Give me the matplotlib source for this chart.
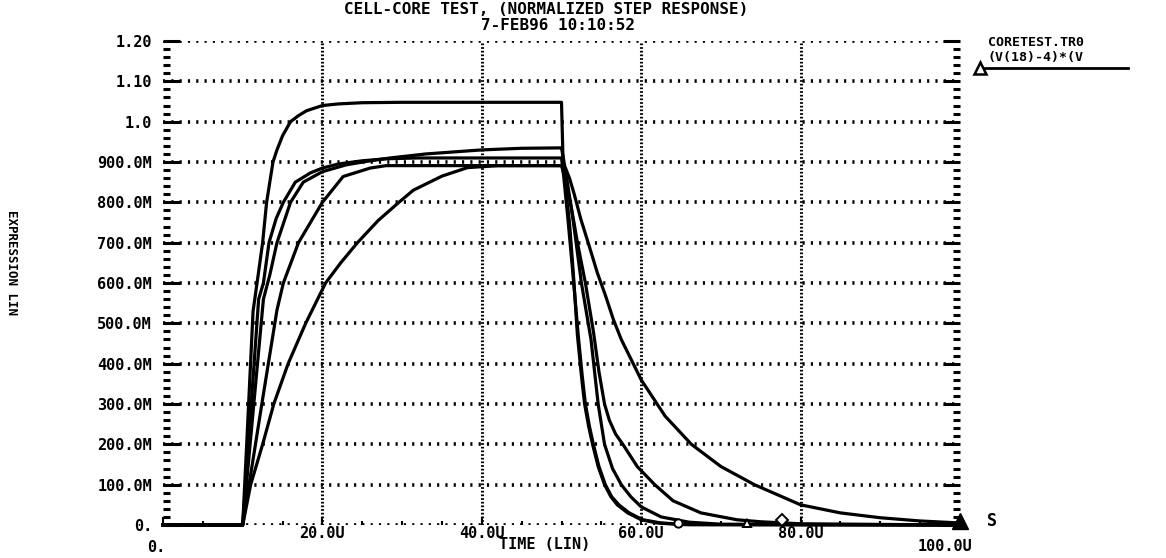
import matplotlib
matplotlib.use("Agg")
import matplotlib.pyplot as plt
from matplotlib import transforms
from matplotlib.lines import Line2D
from matplotlib.ticker import MultipleLocator

# time in microseconds, values normalized
a_t = [0, 10, 10.5, 11.3, 11.8, 12.5, 13.0, 13.8, 14.3, 15.0, 16.0, 17.0, 18.0, 20.0, 22.0, 25.0, 30.0, 50.0,
       50.2, 50.6, 51.0, 51.5, 52.0, 52.5, 52.9, 53.4, 53.9, 54.6, 55.4, 56.2, 57.0, 58.3, 60.0, 62.0, 65.0, 100.0]
a_v = [0, 0, 0.2, 0.53, 0.6, 0.7, 0.8, 0.9, 0.93, 0.965, 1.0, 1.015, 1.027, 1.04, 1.044, 1.047, 1.048, 1.048,
       0.9, 0.82, 0.75, 0.62, 0.47, 0.37, 0.30, 0.245, 0.2, 0.145, 0.1, 0.07, 0.05, 0.03, 0.013, 0.005, 0.001, 0]

b_t = [0, 10, 12.0, 12.6, 13.3, 14.2, 15.1, 16.6, 18.5, 20, 22, 25, 28, 32, 50,
       50.3, 50.8, 51.4, 52.1, 52.6, 53.0, 53.5, 54.0, 54.7, 55.5, 56.3, 57.2, 58.5, 60.2, 62.5, 66, 100]
b_v = [0, 0, 0.56, 0.6, 0.7, 0.76, 0.8, 0.85, 0.873, 0.885, 0.895, 0.903, 0.908, 0.91, 0.91,
       0.86, 0.76, 0.63, 0.47, 0.37, 0.30, 0.245, 0.2, 0.145, 0.1, 0.07, 0.05, 0.03, 0.013, 0.005, 0.001, 0]

c_t = [0, 10, 12.6, 13.4, 14.3, 16.0, 17.6, 20, 23, 26, 28.5, 33, 40, 45, 50,
       50.5, 51.5, 52.5, 53.7, 54.6, 55.4, 56.4, 57.5, 58.7, 60, 62.5, 66, 70, 100]
c_v = [0, 0, 0.56, 0.62, 0.7, 0.8, 0.85, 0.876, 0.893, 0.903, 0.91, 0.92, 0.93, 0.934, 0.935,
       0.88, 0.75, 0.6, 0.46, 0.3, 0.2, 0.14, 0.1, 0.07, 0.045, 0.02, 0.007, 0.002, 0]

d_t = [0, 10, 12.4, 14.3, 15.1, 17, 20, 22.6, 26, 28, 50,
       50.6, 51.3, 52, 53, 54, 54.7, 55.4, 56.0, 56.8, 57.7, 59.5, 61.7, 64, 67.5, 72, 75, 80, 100]
d_v = [0, 0, 0.3, 0.533, 0.6, 0.7, 0.8, 0.864, 0.885, 0.891, 0.891,
       0.85, 0.78, 0.7, 0.6, 0.48, 0.38, 0.3, 0.26, 0.225, 0.2, 0.145, 0.1, 0.06, 0.03, 0.013, 0.008, 0.003, 0]

e_t = [0, 10, 11, 12.5, 13.9, 15.7, 17.9, 20.4, 22.3, 24.4, 27, 29.6, 31.4, 35, 38.2, 42, 50,
       50.5, 51, 51.6, 52.4, 53.5, 54.5, 55.5, 56.5, 57.5, 60, 63, 66.3, 70, 74.2, 80, 85, 90, 95, 100]
e_v = [0, 0, 0.1, 0.2, 0.3, 0.4, 0.5, 0.6, 0.65, 0.7, 0.755, 0.8, 0.83, 0.865, 0.886, 0.891, 0.891,
       0.885, 0.86, 0.82, 0.76, 0.69, 0.625, 0.57, 0.51, 0.46, 0.36, 0.27, 0.2, 0.145, 0.1, 0.05, 0.03, 0.018, 0.01, 0.005]

curves = [(a_t, a_v), (b_t, b_v), (c_t, c_v), (d_t, d_v), (e_t, e_v)]

# trace symbols drawn by Probe near the baseline
marker_t = [64.6, 73.3, 77.7]
marker_v = [0.004, 0.004, 0.012]
marker_sym = ["o", "^", "D"]

y_tick_vals = [0, 0.1, 0.2, 0.3, 0.4, 0.5, 0.6, 0.7, 0.8, 0.9, 1.0, 1.1, 1.2]
y_tick_labels = ["0.", "100.0M", "200.0M", "300.0M", "400.0M", "500.0M", "600.0M",
                 "700.0M", "800.0M", "900.0M", "1.0", "1.10", "1.20"]
x_tick_vals = [0, 20, 40, 60, 80, 100]
x_tick_labels = ["0.", "20.0U", "40.0U", "60.0U", "80.0U", "100.0U"]

mono = dict(family="DejaVu Sans Mono", weight="bold")
W, H = 1166, 558

fig = plt.figure(figsize=(W / 100, H / 100), dpi=100)
ax = fig.add_axes([163 / W, 33 / H, (960 - 163) / W, (525 - 41) / H])

for t, v in curves:
    ax.plot(t, v, color="black", lw=2.3, solid_joinstyle="round", clip_on=False, zorder=3)

for mt, mv, ms in zip(marker_t, marker_v, marker_sym):
    ax.plot(mt, mv, marker=ms, ms=6, mfc="white", mec="black", mew=1.4, clip_on=False, zorder=4)
ax.plot(100, 0.01, marker="^", ms=11, color="black", clip_on=False, zorder=4)

ax.set_xlim(0, 100)
ax.set_ylim(0, 1.2)
for s in ax.spines.values():
    s.set_visible(False)

# dotted grid
for yv in y_tick_vals:
    ax.axhline(yv, color="black", lw=2.6, linestyle=(0, (0.6, 1.7)), zorder=1)
for xv in x_tick_vals[1:-1]:
    ax.axvline(xv, color="black", lw=2.2, linestyle=(0, (0.55, 0.65)), zorder=1)

ax.set_yticks(y_tick_vals)
ax.set_yticklabels(y_tick_labels, fontsize=11, **mono)
ax.yaxis.set_minor_locator(MultipleLocator(0.02))
ax.tick_params(axis="y", which="both", direction="in", left=True, right=True, width=2.2, pad=8, color="black")
ax.tick_params(axis="y", which="major", length=12)
ax.tick_params(axis="y", which="minor", length=5)

ax.set_xticks(x_tick_vals)
ax.xaxis.set_minor_locator(MultipleLocator(5))
ax.tick_params(axis="x", which="both", direction="in", bottom=True, top=False, labelbottom=False, width=1.5)
ax.tick_params(axis="x", which="major", length=6)
ax.tick_params(axis="x", which="minor", length=3)

trans = transforms.blended_transform_factory(ax.transData, ax.transAxes)
for xv, lab in zip(x_tick_vals[1:-1], x_tick_labels[1:-1]):
    ax.text(xv, -0.018, lab, transform=trans, ha="center", va="center", fontsize=11, **mono)
ax.text(-0.8, -0.046, x_tick_labels[0], transform=trans, ha="center", va="center", fontsize=11, **mono)
ax.text(98.1, -0.044, x_tick_labels[-1], transform=trans, ha="center", va="center", fontsize=11, **mono)
ax.text(47.9, -0.041, "TIME (LIN)", transform=trans, ha="center", va="center", fontsize=11, **mono)

fig.text(992 / W, 1 - 521 / H, "S", ha="center", va="center", fontsize=12, **mono)
fig.text(11.5 / W, 1 - 262 / H, "EXPRESSION LIN", rotation=270, ha="center", va="center", fontsize=9, **mono)

fig.text(546 / W, 1 - 10 / H, "CELL-CORE TEST, (NORMALIZED STEP RESPONSE)", ha="center", va="center", fontsize=11.5, **mono)
fig.text(558 / W, 1 - 26 / H, "7-FEB96 10:10:52", ha="center", va="center", fontsize=11.5, **mono)

# legend
fig.text(988 / W, 1 - 43 / H, "CORETEST.TR0", ha="left", va="center", fontsize=9.5, **mono)
fig.text(988 / W, 1 - 57 / H, "(V(18)-4)*(V", ha="left", va="center", fontsize=9.5, **mono)
fig.add_artist(Line2D([985 / W, 1128 / W], [1 - 68 / H] * 2, transform=fig.transFigure, color="black", lw=2))
fig.add_artist(Line2D([980 / W], [1 - 68 / H], transform=fig.transFigure, marker="^", ms=8,
                      mfc="white", mec="black", mew=1.8))

fig.savefig("out.png", dpi=100)
